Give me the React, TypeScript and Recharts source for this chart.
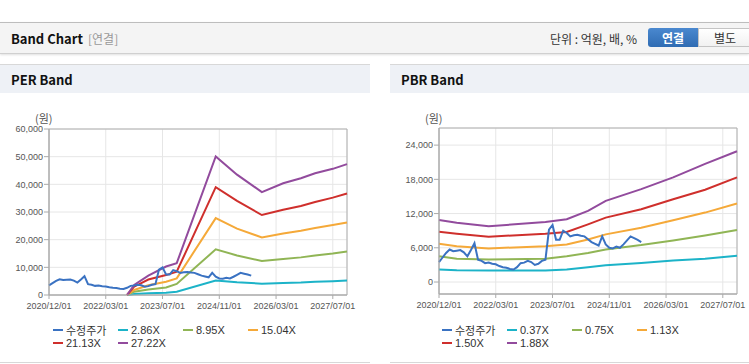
import { LineChart, Line, XAxis, YAxis, CartesianGrid, ReferenceArea } from 'recharts';

// x axis: months since 2020/12
const xTicks = [0, 16, 32, 48, 64, 80];
const xTickLabels = ['2020/12/01', '2022/03/01', '2023/07/01', '2024/11/01', '2026/03/01', '2027/07/01'];

// 수정주가, monthly from 2020/12
const price = [
  3500, 4300, 5100, 5700, 5400, 5500, 5600, 5200, 4500, 5600,
  6800, 3900, 3700, 3300, 3400, 3200, 3100, 2800, 2600, 2500,
  2300, 2200, 2600, 3300, 3400, 3700, 3500, 3000, 3200, 3700,
  3900, 9200, 10000, 7400, 7400, 9000, 8600, 8000, 8200, 8300,
  8100, 8000, 7500, 7000, 6700, 6400, 8000, 6600, 6000, 5900,
  6200, 6000, 6600, 7300, 8000, 7700, 7400, 7000,
];

const perBandMonths = [22, 24, 28, 33, 36, 47, 53, 60, 66, 71, 75, 80, 84];
const per286 = [0, 360, 600, 850, 1200, 5200, 4600, 4100, 4300, 4500, 4800, 5000, 5200];
const per895 = [0, 1200, 2000, 2700, 4000, 16500, 14300, 12300, 13000, 13600, 14300, 15000, 15700];
const per1504 = [0, 1800, 3500, 4800, 6000, 27800, 24000, 20800, 22200, 23200, 24200, 25300, 26200];
const per2113 = [0, 3000, 5600, 7200, 8400, 39000, 34000, 28900, 30800, 32200, 33600, 35200, 36700];
const per2722 = [0, 3600, 7000, 10300, 11500, 50100, 43500, 37200, 40400, 42200, 44000, 45600, 47300];
const perTicks = [0, 10000, 20000, 30000, 40000, 50000, 60000];

const pbrBandMonths = [0, 5, 14, 30, 36, 42, 47, 57, 66, 75, 84];
const pbr037 = [2180, 2060, 2000, 2000, 2200, 2600, 2940, 3350, 3760, 4100, 4590];
const pbr075 = [4530, 4060, 3940, 4060, 4530, 5100, 5700, 6470, 7290, 8170, 9110];
const pbr113 = [6700, 6290, 5880, 6290, 6590, 7470, 8350, 9530, 10820, 12170, 13760];
const pbr150 = [8820, 8470, 7940, 8470, 8760, 10110, 11290, 12760, 14520, 16170, 18350];
const pbr188 = [10880, 10410, 9760, 10530, 11000, 12470, 14230, 16290, 18350, 20700, 22930];
const pbrTicks = [0, 6000, 12000, 18000, 24000];

const COLORS = ['#3a72c2', '#1cb3c8', '#90b555', '#f5a939', '#cf2f2c', '#924b9d'];

const FONT = '"Liberation Sans", Arial, "Noto Sans CJK KR", sans-serif';
const KFONT = '"Noto Sans CJK KR", "Noto Sans", sans-serif';

type Band = { key: string; name: string; values: number[] };

function buildRows(bandMonths: number[], bands: Band[]) {
  const rows = new Map<number, any>();
  const get = (m: number) => {
    if (!rows.has(m)) rows.set(m, { m });
    return rows.get(m);
  };
  price.forEach((v, i) => {
    get(i).price = v;
  });
  bands.forEach((b) => {
    b.values.forEach((v, i) => {
      get(bandMonths[i])[b.key] = v;
    });
  });
  return Array.from(rows.values()).sort((a, b) => a.m - b.m);
}

const fmt = (v: number) => v.toLocaleString('en-US');

function BandLegend({ names, left }: { names: string[]; left: number }) {
  return (
    <div style={{ position: 'absolute', left, top: 323, width: 270, display: 'flex', flexWrap: 'wrap' }}>
      {names.map((n, i) => (
        <div key={n} style={{ width: 65, height: 13.5, display: 'flex', alignItems: 'center', fontFamily: FONT, fontSize: 11, color: '#333' }}>
          <span style={{ display: 'inline-block', width: 10, height: 2, background: COLORS[i], marginRight: 3 }} />
          <span>{n}</span>
        </div>
      ))}
    </div>
  );
}

function BandChart({
  left, width, marginRight, marginTop, bandMonths, bands, yTicks, domain,
}: {
  left: number; width: number; marginRight: number; marginTop: number;
  bandMonths: number[]; bands: Band[]; yTicks: number[]; domain: [number, number];
}) {
  const data = buildRows(bandMonths, bands);
  return (
    <div style={{ position: 'absolute', left, top: 100 }}>
      <LineChart width={width} height={marginTop + 166 + 25} data={data} margin={{ top: marginTop, right: marginRight, bottom: 0, left: 0 }}>
        <CartesianGrid stroke="#e6e6e6" />
        <XAxis
          dataKey="m"
          type="number"
          domain={[0, 84]}
          ticks={xTicks}
          interval={0}
          tickFormatter={(v: number) => xTickLabels[xTicks.indexOf(v)]}
          height={25}
          tickSize={4}
          tickMargin={4}
          stroke="#aaa"
          tick={{ fontSize: 9, fill: '#555', fontFamily: FONT }}
        />
        <YAxis
          type="number"
          domain={domain}
          ticks={yTicks}
          interval={0}
          width={49}
          tickSize={5}
          tickMargin={1}
          stroke="#aaa"
          tickFormatter={fmt}
          tick={{ fontSize: 9, fill: '#555', fontFamily: FONT }}
        />
        <ReferenceArea x1={0} x2={84} y1={domain[0]} y2={domain[1]} fill="none" stroke="#b0b0b0" strokeWidth={1} />
        {bands.map((b, i) => (
          <Line key={b.key} type="linear" dataKey={b.key} name={b.name} stroke={COLORS[i + 1]} strokeWidth={2}
            dot={false} connectNulls isAnimationActive={false} />
        ))}
        <Line type="linear" dataKey="price" name="수정주가" stroke={COLORS[0]} strokeWidth={2}
          dot={false} connectNulls isAnimationActive={false} />
      </LineChart>
    </div>
  );
}

const perBands: Band[] = [
  { key: 'b1', name: '2.86X', values: per286 },
  { key: 'b2', name: '8.95X', values: per895 },
  { key: 'b3', name: '15.04X', values: per1504 },
  { key: 'b4', name: '21.13X', values: per2113 },
  { key: 'b5', name: '27.22X', values: per2722 },
];
const pbrBands: Band[] = [
  { key: 'b1', name: '0.37X', values: pbr037 },
  { key: 'b2', name: '0.75X', values: pbr075 },
  { key: 'b3', name: '1.13X', values: pbr113 },
  { key: 'b4', name: '1.50X', values: pbr150 },
  { key: 'b5', name: '1.88X', values: pbr188 },
];

function PanelHeader({ left, width, title }: { left: number; width: number; title: string }) {
  return (
    <div style={{
      position: 'absolute', left, top: 64, width, height: 28, background: '#eef1f6',
      borderTop: '1px solid #d8d8d8', display: 'flex', alignItems: 'center',
    }}>
      <span style={{ marginLeft: 11, fontFamily: KFONT, fontWeight: 700, fontSize: 13, color: '#111' }}>{title}</span>
    </div>
  );
}

export default function App() {
  return (
    <div style={{ position: 'absolute', left: 0, top: 0, width: 749, height: 364, overflow: 'hidden', background: '#fff' }}>
      {/* top header bar */}
      <div style={{
        position: 'absolute', left: 0, top: 22, width: 749, height: 30, background: '#f4f4f4',
        borderTop: '1px solid #bdbdbd', borderBottom: '1px solid #d0d0d0', boxShadow: '0 1px 2px rgba(0,0,0,0.12)',
      }}>
        <span style={{ position: 'absolute', left: 11, top: 6, fontFamily: KFONT, fontWeight: 700, fontSize: 13, color: '#111' }}>Band Chart</span>
        <span style={{ position: 'absolute', left: 88, top: 7, fontFamily: KFONT, fontSize: 12, color: '#999' }}>[연결]</span>
        <span style={{ position: 'absolute', left: 550, top: 7, fontFamily: KFONT, fontSize: 12, color: '#333' }}>단위 : 억원, 배, %</span>
        <div style={{
          position: 'absolute', left: 648, top: 5, width: 50, height: 19, background: 'linear-gradient(#4a88cf, #2f6cb3)',
          borderRadius: '3px 0 0 3px', color: '#fff', fontFamily: KFONT, fontWeight: 700, fontSize: 12,
          display: 'flex', alignItems: 'center', justifyContent: 'center',
        }}>연결</div>
        <div style={{
          position: 'absolute', left: 698, top: 5, width: 52, height: 17, background: 'linear-gradient(#ffffff, #f1f1f1)',
          border: '1px solid #c4c4c4', color: '#333', fontFamily: KFONT, fontSize: 12,
          display: 'flex', alignItems: 'center', justifyContent: 'center',
        }}>별도</div>
      </div>

      <PanelHeader left={0} width={370} title="PER Band" />
      <PanelHeader left={390} width={359} title="PBR Band" />

      <span style={{ position: 'absolute', left: 35, top: 110, fontFamily: KFONT, fontSize: 11, color: '#555' }}>(원)</span>
      <span style={{ position: 'absolute', left: 425, top: 110, fontFamily: KFONT, fontSize: 11, color: '#555' }}>(원)</span>

      <BandChart left={0} width={370} marginRight={23} marginTop={29} bandMonths={perBandMonths} bands={perBands}
        yTicks={perTicks} domain={[0, 60000]} />
      <BandChart left={390} width={359} marginRight={12} marginTop={28} bandMonths={pbrBandMonths} bands={pbrBands}
        yTicks={pbrTicks} domain={[-2100, 27000]} />

      <BandLegend left={53} names={['수정주가', ...perBands.map((b) => b.name)]} />
      <BandLegend left={442} names={['수정주가', ...pbrBands.map((b) => b.name)]} />

      <div style={{ position: 'absolute', left: 0, top: 362, width: 370, height: 1, background: '#d8d8d8' }} />
      <div style={{ position: 'absolute', left: 390, top: 362, width: 359, height: 1, background: '#d8d8d8' }} />
    </div>
  );
}
